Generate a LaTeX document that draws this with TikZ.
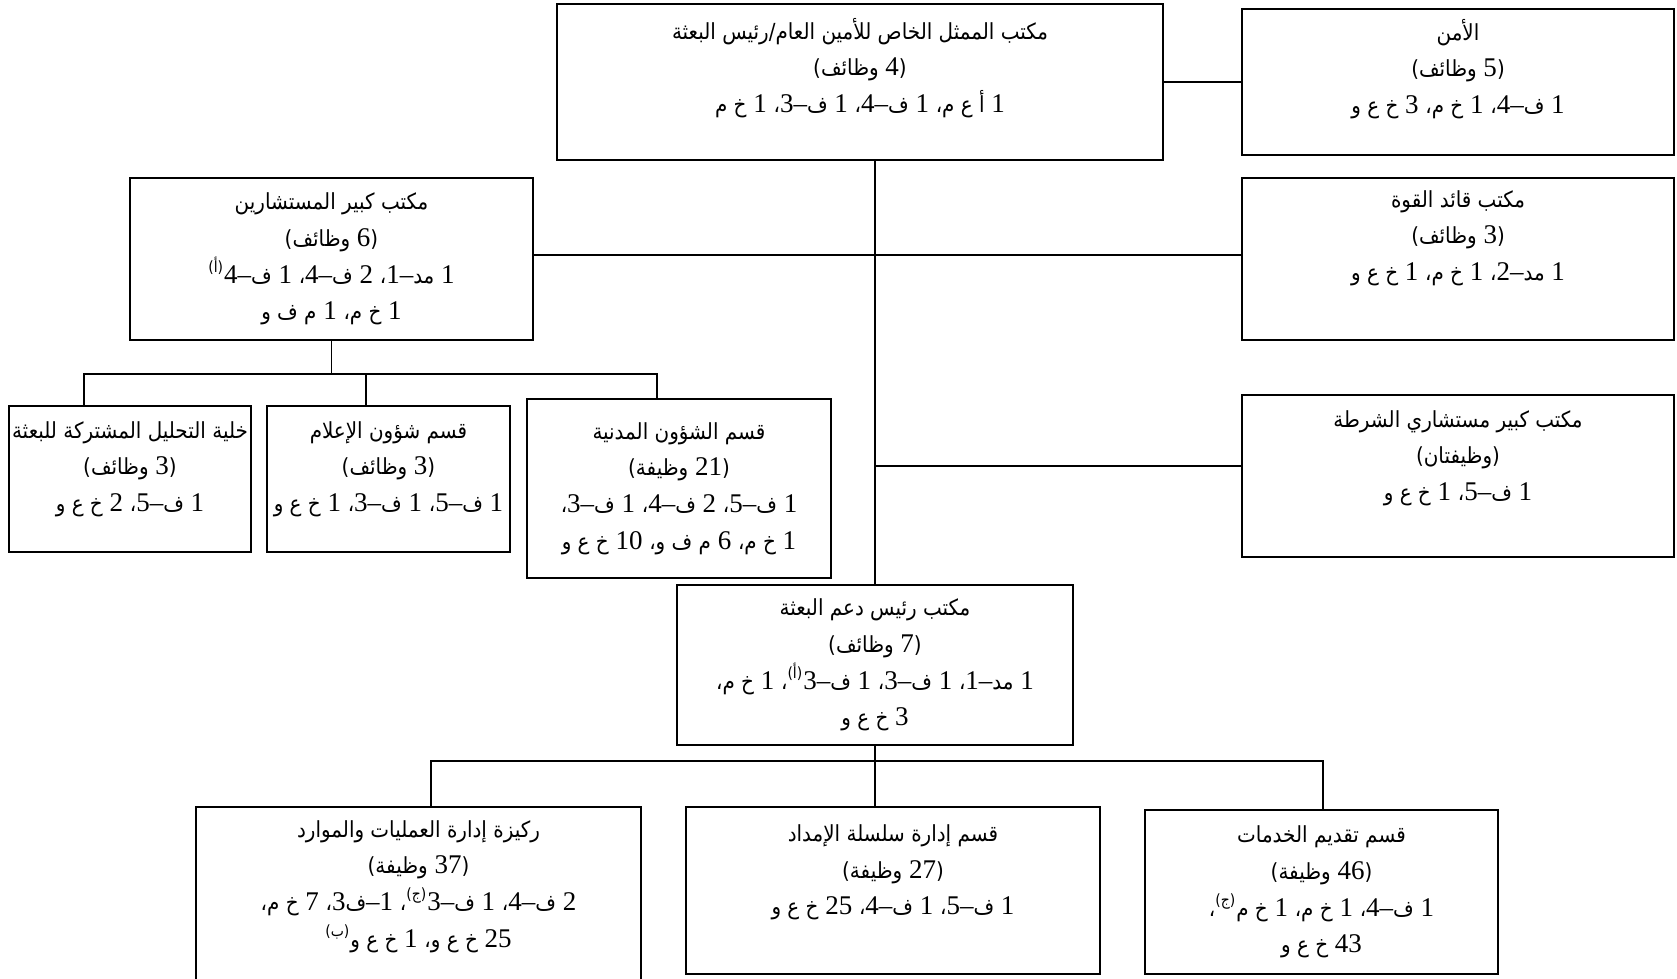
\documentclass[tikz,border=0pt]{standalone}
\usepackage{fontspec}
\setmainfont{Liberation Serif}
\newfontfamily\arabicfont[Script=Arabic,Scale=0.82,FakeStretch=0.9]{DejaVu Sans}
\TeXXeTstate=1
\newcommand{\artxt}[1]{{\arabicfont #1}}
\newcommand{\supar}[1]{\textsuperscript{\arabicfont #1}}
\newcommand{\grade}[2]{\artxt{#1}\mbox{–}#2}

\begin{document}
\begin{tikzpicture}[
    x=0.5pt, y=-0.5pt,
    unit/.style={draw, line width=0.9pt, align=center, inner sep=0pt,
                 font=\fontsize{13.5}{18.3}\selectfont},
    link/.style={line width=0.8pt}
]
    \useasboundingbox (0,0) rectangle (1677,979);

    % top row
    \node[unit, minimum width=303pt, minimum height=78pt] (srsg) at (860,82)
        {\beginR\artxt{مكتب الممثل الخاص للأمين العام/رئيس البعثة}\endR\\
         \beginR\artxt{(}4 \artxt{وظائف)}\endR\\
         \beginR 1 \artxt{أ ع م،} 1 \grade{ف}{4}\artxt{،} 1 \grade{ف}{3}\artxt{،} 1 \artxt{خ م}\endR\\[-7pt] \strut};
    \node[unit, minimum width=216pt, minimum height=73pt] (sec) at (1458,82)
        {\beginR\artxt{الأمن}\endR\\
         \beginR\artxt{(}5 \artxt{وظائف)}\endR\\
         \beginR 1 \grade{ف}{4}\artxt{،} 1 \artxt{خ م،} 3 \artxt{خ ع و}\endR\\[-8pt] \strut};

    % offices under the head of mission
    \node[unit, minimum width=201.5pt, minimum height=81pt] (cos) at (331.5,259)
        {\beginR\artxt{مكتب كبير المستشارين}\endR\\
         \beginR\artxt{(}6 \artxt{وظائف)}\endR\\
         \beginR 1 \grade{مد}{1}\artxt{،} 2 \grade{ف}{4}\artxt{،} 1 \grade{ف}{4}\supar{(أ)}\endR\\
         \beginR 1 \artxt{خ م،} 1 \artxt{م ف و}\endR};
    \node[unit, minimum width=216pt, minimum height=81pt] (fc) at (1458,259)
        {\beginR\artxt{مكتب قائد القوة}\endR\\
         \beginR\artxt{(}3 \artxt{وظائف)}\endR\\
         \beginR 1 \grade{مد}{2}\artxt{،} 1 \artxt{خ م،} 1 \artxt{خ ع و}\endR\\ \strut};
    \node[unit, minimum width=216pt, minimum height=81pt] (police) at (1458,476)
        {\beginR\artxt{مكتب كبير مستشاري الشرطة}\endR\\
         \beginR\artxt{(وظيفتان)}\endR\\
         \beginR 1 \grade{ف}{5}\artxt{،} 1 \artxt{خ ع و}\endR\\[-3pt] \strut};

    % sections under the chief of staff
    \node[unit, minimum width=121pt, minimum height=73pt] (jmac) at (130,479)
        {\beginR\artxt{خلية التحليل المشتركة للبعثة}\endR\\
         \beginR\artxt{(}3 \artxt{وظائف)}\endR\\
         \beginR 1 \grade{ف}{5}\artxt{،} 2 \artxt{خ ع و}\endR\\[-11pt] \strut};
    \node[unit, minimum width=121.5pt, minimum height=73pt] (pinfo) at (388.5,479)
        {\beginR\artxt{قسم شؤون الإعلام}\endR\\
         \beginR\artxt{(}3 \artxt{وظائف)}\endR\\
         \beginR 1 \grade{ف}{5}\artxt{،} 1 \grade{ف}{3}\artxt{،} 1 \artxt{خ ع و}\endR\\[-11pt] \strut};
    \node[unit, minimum width=152pt, minimum height=89.5pt] (civil) at (679,488.5)
        {\beginR\artxt{قسم الشؤون المدنية}\endR\\
         \beginR\artxt{(}21 \artxt{وظيفة)}\endR\\
         \beginR 1 \grade{ف}{5}\artxt{،} 2 \grade{ف}{4}\artxt{،} 1 \grade{ف}{3}\artxt{،}\endR\\
         \beginR 1 \artxt{خ م،} 6 \artxt{م ف و،} 10 \artxt{خ ع و}\endR};

    % mission support
    \node[unit, minimum width=198pt, minimum height=80pt] (dms) at (875,665)
        {\beginR\artxt{مكتب رئيس دعم البعثة}\endR\\
         \beginR\artxt{(}7 \artxt{وظائف)}\endR\\
         \beginR 1 \grade{مد}{1}\artxt{،} 1 \grade{ف}{3}\artxt{،} 1 \grade{ف}{3}\supar{(أ)}\artxt{،} 1 \artxt{خ م،}\endR\\
         \beginR 3 \artxt{خ ع و}\endR};
    \node[unit, minimum width=222.5pt, minimum height=91.5pt] (ops) at (418.5,898.5)
        {\beginR\artxt{ركيزة إدارة العمليات والموارد}\endR\\
         \beginR\artxt{(}37 \artxt{وظيفة)}\endR\\
         \beginR 2 \grade{ف}{4}\artxt{،} 1 \grade{ف}{3}\supar{(ج)}\artxt{،} 1\mbox{–}\artxt{ف}3\artxt{،} 7 \artxt{خ م،}\endR\\
         \beginR 25 \artxt{خ ع و،} 1 \artxt{خ ع و}\supar{(ب)}\endR\\[-9pt] \strut};
    \node[unit, minimum width=207pt, minimum height=83.5pt] (supply) at (893,890.5)
        {\beginR\artxt{قسم إدارة سلسلة الإمداد}\endR\\
         \beginR\artxt{(}27 \artxt{وظيفة)}\endR\\
         \beginR 1 \grade{ف}{5}\artxt{،} 1 \grade{ف}{4}\artxt{،} 25 \artxt{خ ع و}\endR\\[-3pt] \strut};
    \node[unit, minimum width=176.5pt, minimum height=82pt] (service) at (1321.5,892)
        {\beginR\artxt{قسم تقديم الخدمات}\endR\\
         \beginR\artxt{(}46 \artxt{وظيفة)}\endR\\
         \beginR 1 \grade{ف}{4}\artxt{،} 1 \artxt{خ م،} 1 \artxt{خ م}\supar{(ج)}\artxt{،}\endR\\
         \beginR 43 \artxt{خ ع و}\endR};

    % connectors
    \coordinate (jmacdrop) at (84,374);
    \coordinate (pinfodrop) at (366,374);
    \coordinate (civildrop) at (657,374);
    \coordinate (opsdrop) at (431,761);
    \coordinate (servicedrop) at (1323,761);

    \draw[link] (srsg) -- (sec);
    \draw[link] (srsg.south -| dms.north) -- (dms.north);
    \draw[link] ([yshift=2pt]cos.east) -- ([yshift=2pt]fc.west);
    \draw[link] ([yshift=5pt]police.west) -- ([yshift=5pt]police.west -| dms.north);
    \draw[link] (cos.south) -- (cos.south |- jmacdrop);
    \draw[link] (jmacdrop |- jmac.north) -- (jmacdrop) -- (civildrop) -- (civildrop |- civil.north);
    \draw[link] (pinfodrop) -- (pinfodrop |- pinfo.north);
    \draw[link] (dms.south) -- (dms.south |- supply.north);
    \draw[link] (opsdrop |- ops.north) -- (opsdrop) -- (servicedrop) -- (servicedrop |- service.north);
\end{tikzpicture}
\end{document}
